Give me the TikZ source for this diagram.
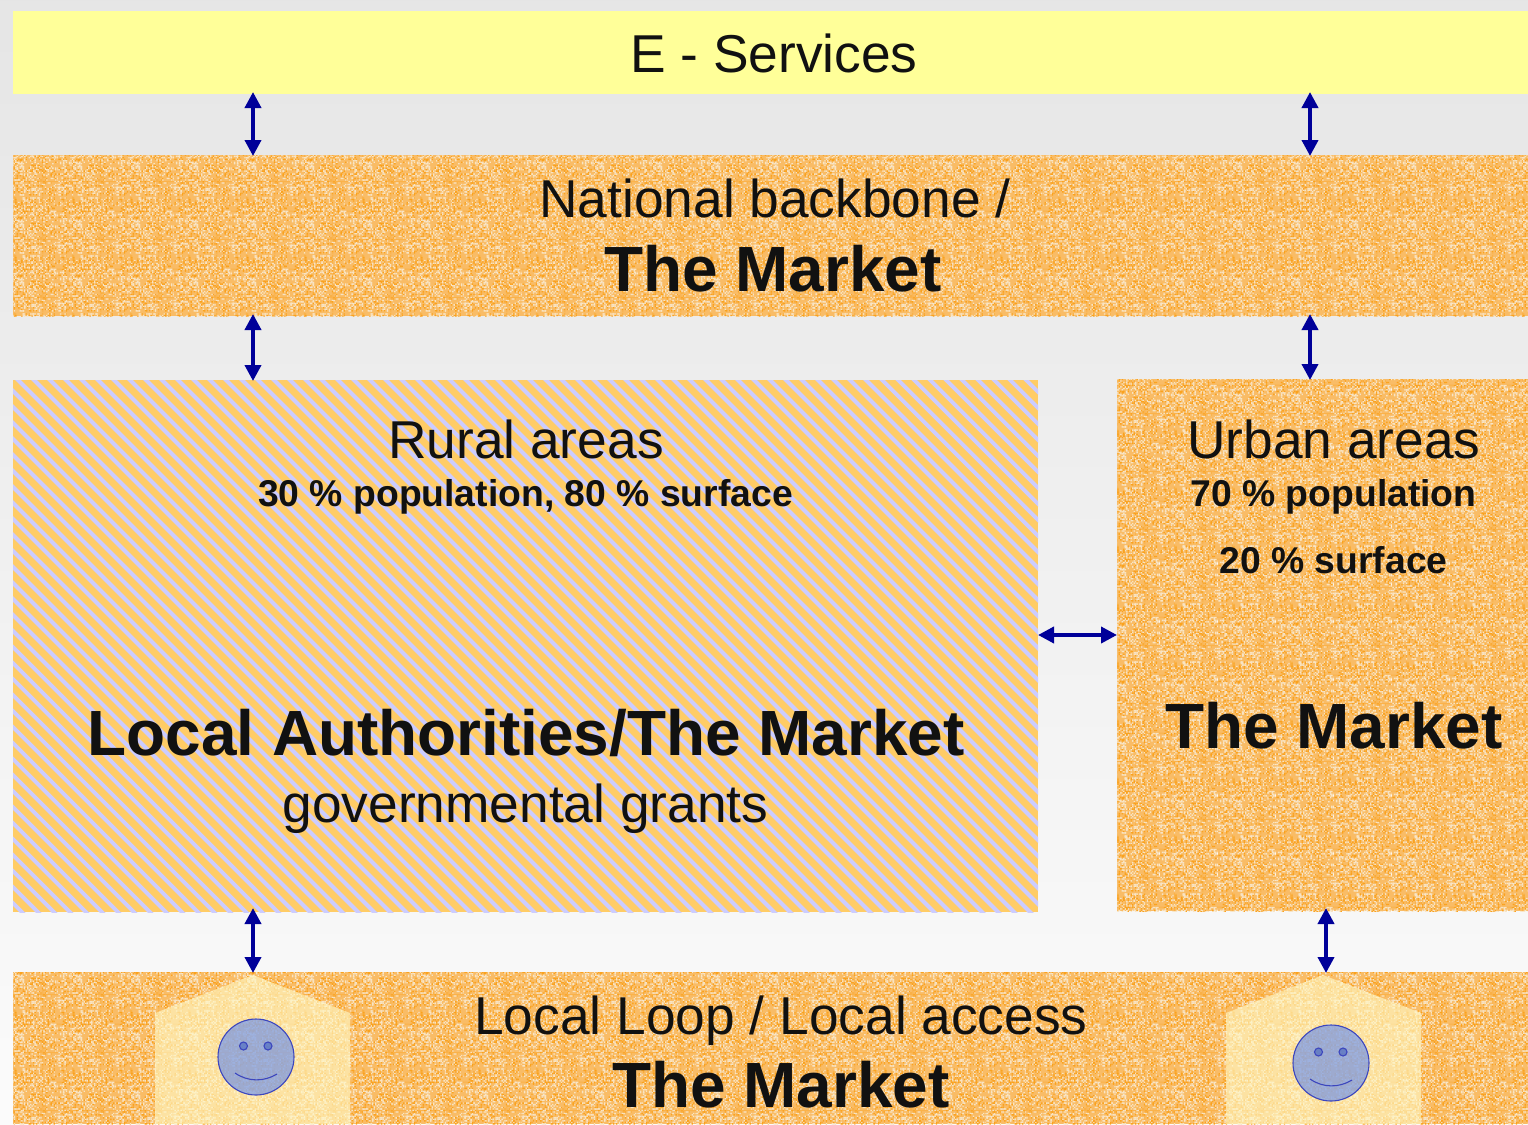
\documentclass[tikz,border=0pt]{standalone}
\usepackage{fontspec}
\setmainfont{Liberation Sans}
\usetikzlibrary{arrows.meta,patterns}
\definecolor{txt}{HTML}{111111}
\definecolor{orA}{HTML}{F9BC66}
\definecolor{orB}{HTML}{F8E4C4}
\definecolor{orC}{HTML}{FAA21E}
\definecolor{orD}{HTML}{FAB24A}
\definecolor{stA}{HTML}{FFCC66}
\definecolor{stB}{HTML}{CCCCFF}
\definecolor{navy}{HTML}{000099}
\pgfmathsetseed{4242}
\pgfdeclarepatterninherentlycolored{speckle}{\pgfpointorigin}{\pgfpoint{58pt}{58pt}}{\pgfpoint{58pt}{58pt}}{%
  \pgfsetfillcolor{orD}%
  \pgfpathrectangle{\pgfpoint{14pt}{0pt}}{\pgfpoint{1pt}{58pt}}\pgfusepath{fill}%
  \pgfpathrectangle{\pgfpoint{43pt}{0pt}}{\pgfpoint{1pt}{58pt}}\pgfusepath{fill}%
  \pgfpathrectangle{\pgfpoint{0pt}{14pt}}{\pgfpoint{58pt}{1pt}}\pgfusepath{fill}%
  \pgfpathrectangle{\pgfpoint{0pt}{43pt}}{\pgfpoint{58pt}{1pt}}\pgfusepath{fill}%
  \pgfsetfillcolor{orB}%
  \foreach \i in {1,...,560}{%
    \pgfmathrandominteger\rx{0}{37}\pgfmathrandominteger\ry{0}{37}%
    \pgfpathrectangle{\pgfpoint{\rx pt*1.5+.5pt}{\ry pt*1.5+.5pt}}{\pgfpoint{1.4pt}{1.4pt}}\pgfusepath{fill}}%
  \pgfsetfillcolor{orC}%
  \foreach \i in {1,...,300}{%
    \pgfmathrandominteger\rx{0}{37}\pgfmathrandominteger\ry{0}{37}%
    \pgfpathrectangle{\pgfpoint{\rx pt*1.5+.5pt}{\ry pt*1.5+.5pt}}{\pgfpoint{1.4pt}{1.4pt}}\pgfusepath{fill}}%
}
\tikzset{
  x=1pt,y=-1pt,
  panel/.style={anchor=north west,inner sep=0pt,outer sep=0pt,rectangle,draw=none},
  market/.style={panel,preaction={fill=orA},pattern=speckle},
  rural/.style={panel,fill=stA},
  label/.style={inner sep=0pt,outer sep=0pt,text=txt,anchor=base,align=center},
  big/.style={label,font=\fontsize{53.3}{60}\selectfont},
  mid/.style={label,font=\fontsize{37.3}{42}\selectfont\bfseries},
  huge/.style={label,font=\fontsize{63.9}{70}\selectfont\bfseries},
  link/.style={navy,line width=3.8pt,{Triangle[width=16pt,length=16pt]}-{Triangle[width=16pt,length=16pt]},shorten <=-2pt,shorten >=-1pt},
  house/.style={fill={rgb,255:red,255;green,250;blue,200},fill opacity=.62,draw=none},
  face/.style={fill={rgb,255:red,80;green,125;blue,245},fill opacity=.55,draw=none},
  faceline/.style={draw={rgb,255:red,60;green,70;blue,190},line width=1.1pt},
  eye/.style={faceline,fill={rgb,255:red,70;green,100;blue,190},fill opacity=.6},
}
\begin{document}
\begin{tikzpicture}
\useasboundingbox (0,0) rectangle (1528,1124);
\shade[top color=black!10,bottom color=black!1.5,shading angle=0] (0,0) rectangle (1528,1124);
% panels
\node[panel,fill={rgb,255:red,255;green,255;blue,153},minimum width=1515pt,minimum height=83pt] (eserv) at (13,11) {};
\node[market,minimum width=1515pt,minimum height=161pt] (backbone) at (13,155) {};
\node[rural,minimum width=1025pt,minimum height=532pt] (ruralbox) at (13,380) {};
\begin{scope}
  \clip (13,380) rectangle (1038,912);
  \foreach \k in {0,...,100}{
    \draw[stB,line width=3.9pt] ({-520+16*\k},370) -- ({-520+16*\k+560},930);
  }
\end{scope}
\node[market,minimum width=411pt,minimum height=532pt] (urbanbox) at (1117,379) {};
\node[market,minimum width=1515pt,minimum height=152pt] (loop) at (13,972) {};
% houses
\fill[house] (155,1124) -- (155,1013) -- (253,975) -- (350,1013) -- (350,1124) -- cycle;
\fill[house] (1226,1124) -- (1226,1013) -- (1323,975) -- (1421,1013) -- (1421,1124) -- cycle;
% smileys
\foreach \cx/\cy in {256/1057,1331/1063}{
  \fill[face] (\cx,\cy) circle[radius=38];
  \draw[faceline] (\cx,\cy) circle[radius=38];
  \draw[eye] (\cx-12.5,\cy-11) circle[radius=4];
  \draw[eye] (\cx+12,\cy-11) circle[radius=4];
  \draw[faceline] (\cx-21,\cy+16) .. controls (\cx-8,\cy+25) and (\cx+8,\cy+25) .. (\cx+21,\cy+17);
}
% texts
\node[big] (t1) at (774,73) {E - Services};
\node[big] (t2) at (775,217) {National backbone /};
\node[huge] (t3) at (773,291.5) {The Market};
\node[big] (t4) at (526,458) {Rural areas};
\node[mid] (t5) at (525.5,506) {30 \% population, 80 \% surface};
\node[huge] (t6) at (526,755) {Local Authorities/The Market};
\node[big] (t7) at (525.5,822) {governmental grants};
\node[big] (t8) at (1334,458) {Urban areas};
\node[mid] (t9) at (1333.5,506) {70 \% population};
\node[mid] (t10) at (1333.5,573) {20 \% surface};
\node[huge] (t11) at (1334,748.5) {The Market};
\node[big] (t12) at (781,1034) {Local Loop / Local access};
\node[huge] (t13) at (781,1107.5) {The Market};
% connector columns
\coordinate (colA) at (253,0);
\coordinate (colB) at (1310,0);
\coordinate (colC) at (1326,0);
\coordinate (rowH) at (0,635);
\draw[link] (eserv.south -| colA) -- (backbone.north -| colA);
\draw[link] (eserv.south -| colB) -- (backbone.north -| colB);
\draw[link] (backbone.south -| colA) -- (ruralbox.north -| colA);
\draw[link] (backbone.south -| colB) -- (urbanbox.north -| colB);
\draw[link,shorten <=-4pt] (ruralbox.south -| colA) -- (loop.north -| colA);
\draw[link,shorten <=-3pt] (urbanbox.south -| colC) -- (loop.north -| colC);
\draw[link,shorten <=0pt,shorten >=0pt] (ruralbox.east |- rowH) -- (urbanbox.west |- rowH);
\end{tikzpicture}
\end{document}
